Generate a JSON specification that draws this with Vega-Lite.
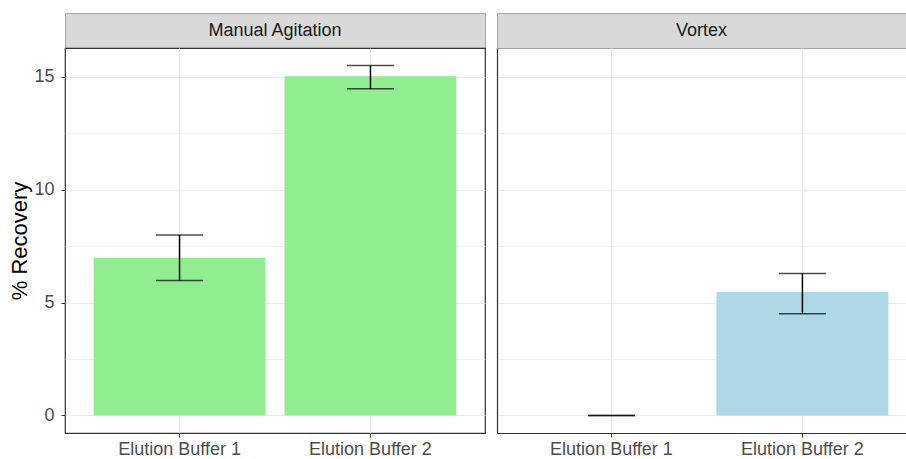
{
  "$schema": "https://vega.github.io/schema/vega-lite/v6.json",
  "padding": {"left": 8, "top": 12, "right": 0, "bottom": 0},
  "background": "white",
  "datasets": {
    "recovery": [
      {"method": "Manual Agitation", "buffer": "Elution Buffer 1", "recovery": 6.98, "lower": 5.98, "upper": 7.99},
      {"method": "Manual Agitation", "buffer": "Elution Buffer 2", "recovery": 15.02, "lower": 14.47, "upper": 15.49},
      {"method": "Vortex", "buffer": "Elution Buffer 1", "recovery": 0, "lower": 0, "upper": 0},
      {"method": "Vortex", "buffer": "Elution Buffer 2", "recovery": 5.47, "lower": 4.51, "upper": 6.29}
    ],
    "panels": [{"method": "Manual Agitation"}, {"method": "Vortex"}]
  },
  "columns": 2,
  "bounds": "flush",
  "spacing": {"row": 0, "column": 12},
  "concat": [
    {
      "width": 420, "height": 35,
      "data": {"name": "panels"},
      "transform": [{"filter": "datum.method === 'Manual Agitation'"}],
      "view": {"fill": "#d9d9d9", "stroke": "#a6a6a6"},
      "mark": {"type": "text", "fontSize": 18, "color": "#1a1a1a", "baseline": "middle", "align": "center"},
      "encoding": {"text": {"field": "method"}}
    },
    {
      "width": 409, "height": 35,
      "data": {"name": "panels"},
      "transform": [{"filter": "datum.method === 'Vortex'"}],
      "view": {"fill": "#d9d9d9", "stroke": "#a6a6a6"},
      "mark": {"type": "text", "fontSize": 18, "color": "#1a1a1a", "baseline": "middle", "align": "center"},
      "encoding": {"text": {"field": "method"}}
    },
    {
      "width": 420, "height": 385,
      "data": {"name": "recovery"},
      "transform": [{"filter": "datum.method === 'Manual Agitation'"}],
      "view": {"stroke": "#333333", "strokeWidth": 1.2},
      "encoding": {
        "x": {"field": "buffer", "type": "nominal", "title": null,
          "scale": {"paddingInner": 0.1, "paddingOuter": 0.15},
          "axis": {"labelAngle": 0, "bandPosition": 0.5, "grid": true, "gridColor": "#ebebeb", "gridWidth": 1.2, "tickSize": 4, "tickColor": "#333333", "labelPadding": 3, "domain": false}}
      },
      "layer": [
        {
          "mark": {"type": "bar", "fill": "#90ee90"},
          "encoding": {
            "y": {"field": "recovery", "type": "quantitative", "title": "% Recovery",
              "scale": {"domain": [-0.775, 16.27], "nice": false, "zero": false},
              "axis": {
                "values": [0, 2.5, 5, 7.5, 10, 12.5, 15],
                "labelExpr": "datum.value % 5 === 0 ? datum.label : ''",
                "tickOpacity": {"condition": {"test": "datum.value % 5 === 0", "value": 1}, "value": 0},
                "gridWidth": {"condition": {"test": "datum.value % 5 === 0", "value": 1.2}, "value": 0.7},
                "gridColor": "#ebebeb",
                "tickSize": 4, "tickColor": "#333333", "labelPadding": 7,
                "titlePadding": 2, "titleFontSize": 22, "titleFontWeight": "normal", "titleColor": "#000000",
                "domain": false
              }},
            "y2": {"datum": 0}
          }
        },
        {
          "mark": {"type": "rule", "color": "#000000", "strokeWidth": 1.5},
          "encoding": {"y": {"field": "lower", "type": "quantitative", "title": "% Recovery"}, "y2": {"field": "upper"}}
        },
        {
          "mark": {"type": "tick", "color": "#000000", "size": 47, "thickness": 1.5},
          "encoding": {"y": {"field": "lower", "type": "quantitative", "title": "% Recovery"}}
        },
        {
          "mark": {"type": "tick", "color": "#000000", "size": 47, "thickness": 1.5},
          "encoding": {"y": {"field": "upper", "type": "quantitative", "title": "% Recovery"}}
        }
      ]
    },
    {
      "width": 409, "height": 385,
      "data": {"name": "recovery"},
      "transform": [{"filter": "datum.method === 'Vortex'"}],
      "view": {"stroke": null},
      "encoding": {
        "x": {"field": "buffer", "type": "nominal", "title": null,
          "scale": {"paddingInner": 0.1, "paddingOuter": 0.121, "align": 0.618},
          "axis": {"labelAngle": 0, "bandPosition": 0.5, "grid": true, "gridColor": "#ebebeb", "gridWidth": 1.2, "tickSize": 4, "tickColor": "#333333", "labelPadding": 3, "domain": true, "domainColor": "#333333", "domainWidth": 1.2}}
      },
      "layer": [
        {
          "mark": {"type": "bar", "fill": "#add8e6"},
          "encoding": {
            "y": {"field": "recovery", "type": "quantitative", "title": null,
              "scale": {"domain": [-0.775, 16.27], "nice": false, "zero": false},
              "axis": {
                "values": [0, 2.5, 5, 7.5, 10, 12.5, 15],
                "labels": false, "ticks": false,
                "gridWidth": {"condition": {"test": "datum.value % 5 === 0", "value": 1.2}, "value": 0.7},
                "gridColor": "#ebebeb",
                "domain": true, "domainColor": "#333333", "domainWidth": 1.2
              }},
            "y2": {"datum": 0}
          }
        },
        {
          "mark": {"type": "rule", "color": "#000000", "strokeWidth": 1.5},
          "encoding": {"y": {"field": "lower", "type": "quantitative", "title": null}, "y2": {"field": "upper"}}
        },
        {
          "mark": {"type": "tick", "color": "#000000", "size": 47, "thickness": 1.5},
          "encoding": {"y": {"field": "lower", "type": "quantitative", "title": null}}
        },
        {
          "mark": {"type": "tick", "color": "#000000", "size": 47, "thickness": 1.5},
          "encoding": {"y": {"field": "upper", "type": "quantitative", "title": null}}
        }
      ]
    }
  ],
  "config": {
    "font": "Liberation Sans",
    "axis": {"labelFont": "Liberation Sans", "labelFontSize": 18, "labelColor": "#4d4d4d", "titleFont": "Liberation Sans"}
  }
}
